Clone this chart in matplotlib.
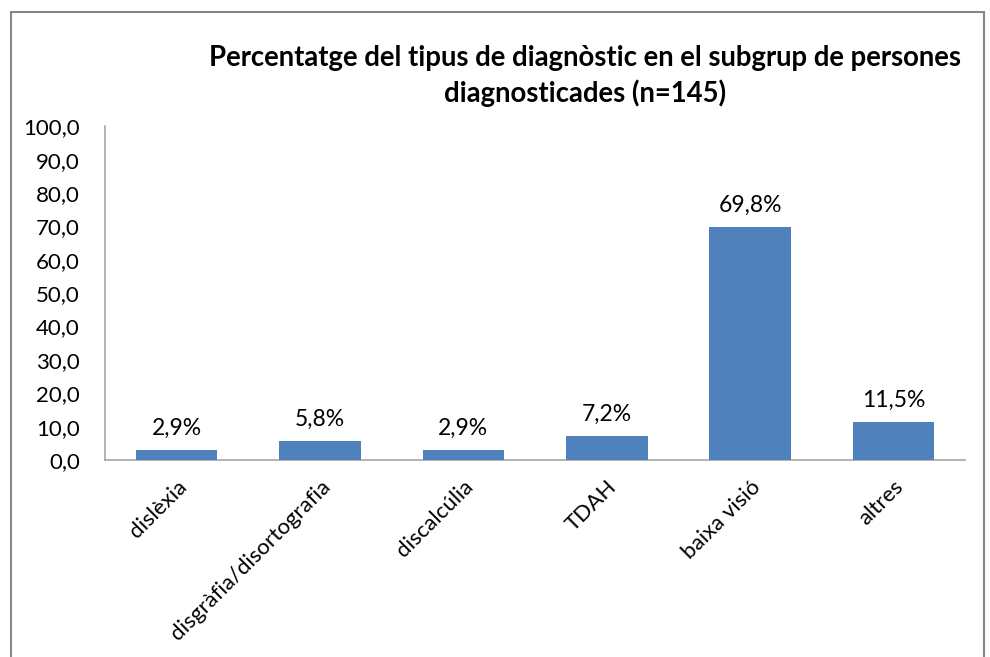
import matplotlib.pyplot as plt
from matplotlib.patches import Rectangle

categories = ['dislèxia', 'disgràfia/disortografia', 'discalcúlia', 'TDAH', 'baixa visió', 'altres']
values = [2.9, 5.8, 2.9, 7.2, 69.8, 11.5]
yticks = [0, 10, 20, 30, 40, 50, 60, 70, 80, 90, 100]

plt.rcParams['font.family'] = ['Lato', 'DejaVu Sans']

fig = plt.figure(figsize=(9.9, 6.57), dpi=100)
ax = fig.add_axes([0.106, 0.2998, 0.869, 0.508])

x = range(len(categories))
bars = ax.bar(x, values, width=0.57, color='#4F81BD', zorder=3)

for xi, v in zip(x, values):
    ax.annotate(f'{v:.1f}%'.replace('.', ','), (xi, v), xytext=(0, 8),
                textcoords='offset points', ha='center', va='bottom', fontsize=16.5)

ax.set_xlim(-0.5, len(categories) - 0.5)
ax.set_ylim(0, 100)
ax.set_yticks(yticks)
ax.set_yticklabels([f'{t:.1f}'.replace('.', ',') for t in yticks], fontsize=16)
ax.set_xticks(list(x))
ax.set_xticklabels(categories, rotation=45, ha='right', rotation_mode='anchor', fontsize=16)
ax.tick_params(axis='y', length=0, pad=18)
ax.tick_params(axis='x', length=0, pad=12)

for s in ['top', 'right']:
    ax.spines[s].set_visible(False)
for s in ['left', 'bottom']:
    ax.spines[s].set_color('#A6A6A6')
    ax.spines[s].set_linewidth(1.2)

fig.text(0.591, 0.912, 'Percentatge del tipus de diagnòstic en el subgrup de persones',
         ha='center', va='center', fontsize=19.8, fontweight='bold')
fig.text(0.591, 0.858, 'diagnosticades (n=145)',
         ha='center', va='center', fontsize=19.8, fontweight='bold')

border = Rectangle((11 / 990, -0.02), (984 - 11) / 990, (657 - 12) / 657 + 0.02,
                   transform=fig.transFigure, fill=False, edgecolor='#868686', linewidth=1.5)
fig.patches.append(border)

fig.savefig('out.png', dpi=100)
